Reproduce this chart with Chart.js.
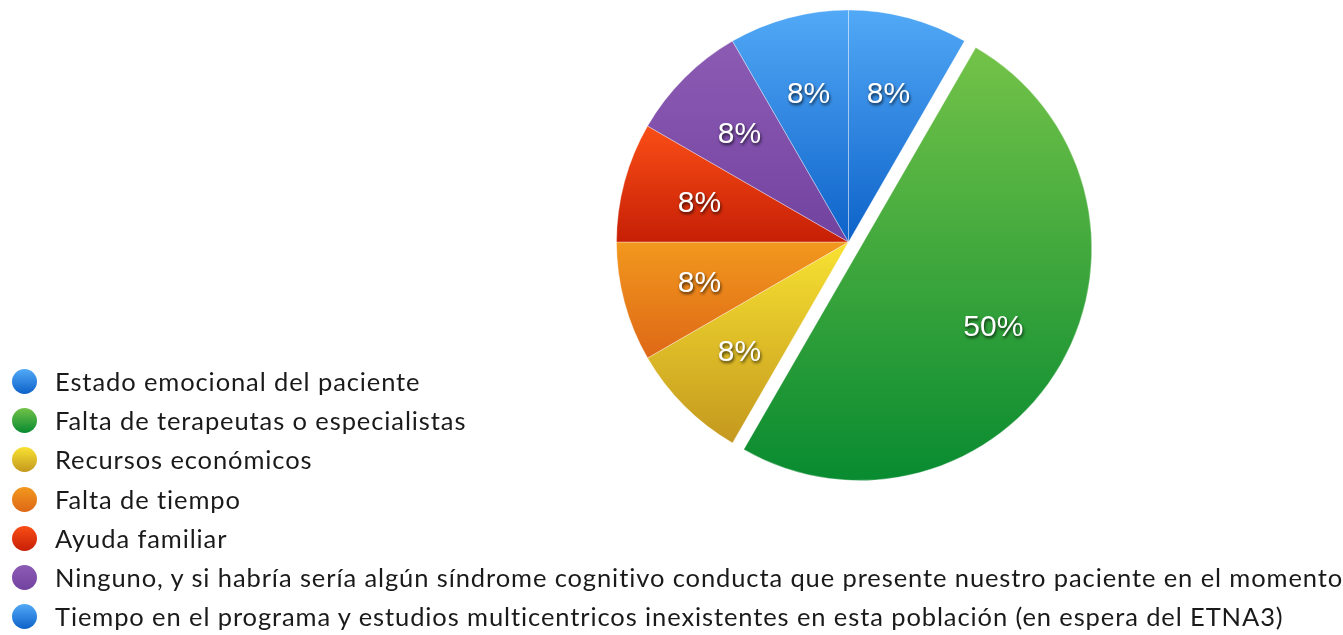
<!DOCTYPE html>
<html>
<head>
<meta charset="utf-8">
<script src="https://cdn.jsdelivr.net/npm/chart.js@4/dist/chart.umd.min.js"></script>
<style>
  body { margin: 0; background: #fff; }
  #wrap { position: relative; width: 1343px; height: 635px; }
  #legend { position: absolute; left: 0; top: 362px; margin: 0; padding: 0; list-style: none;
    font-family: Lato, "Open Sans", sans-serif; font-size: 25.5px; letter-spacing: 0.9px; color: #1a1a1a; }
  #legend li { height: 39.2px; line-height: 39.2px; white-space: nowrap; position: relative; padding-left: 55px; }
  #legend span { position: absolute; left: 12px; top: 7px; width: 25px; height: 25px; border-radius: 50%; }
</style>
</head>
<body>
<div id="wrap">
  <canvas id="pieChart"></canvas>
  <ul id="legend"></ul>
</div>
<script>
const categories = [
    'Estado emocional del paciente',
    'Falta de terapeutas o especialistas',
    'Recursos económicos',
    'Falta de tiempo',
    'Ayuda familiar',
    'Ninguno, y si habría sería algún síndrome cognitivo conducta que presente nuestro paciente en el momento',
    'Tiempo en el programa y estudios multicentricos inexistentes en esta población (en espera del ETNA3)'
]
const responses = [1, 6, 1, 1, 1, 1, 1]

const topColors = ['#52a9f6', '#72c248', '#f8e232', '#f2981e', '#fa4e16', '#8c5cb4', '#52a9f6']
const bottomColors = ['#0d62c9', '#078a30', '#c4981e', '#de6816', '#c61f06', '#7242a0', '#0d62c9']
// pixels each slice is pulled out from the centre
const sliceShift = [0, 13, 0, 0, 0, 0, 0]
const borderW = 1

const total = responses.reduce((a, b) => a + b, 0)

function sliceAngles(i) {
    let start = -Math.PI / 2
    for (let j = 0; j < i; j++) start += 2 * Math.PI * responses[j] / total
    return [start, start + 2 * Math.PI * responses[i] / total]
}

function sliceGradient(context) {
    const i = context.dataIndex
    const area = context.chart.chartArea
    if (!area) return topColors[i]
    const cy = (area.top + area.bottom) / 2
    const r = (Math.min(area.width, area.height) - borderW) / 2
    const [a0, a1] = sliceAngles(i)
    const dy = sliceShift[i] * Math.sin((a0 + a1) / 2)
    const ys = [cy, cy + r * Math.sin(a0), cy + r * Math.sin(a1)]
    if (a0 <= Math.PI / 2 && a1 >= Math.PI / 2) ys.push(cy + r)
    const g = context.chart.ctx.createLinearGradient(0, Math.min(...ys) + dy, 0, Math.max(...ys) + dy)
    g.addColorStop(0, topColors[i])
    g.addColorStop(1, bottomColors[i])
    return g
}

// chart.js grows an offset half-circle, so move the slice by hand
const explodeSlices = {
    id: 'explodeSlices',
    afterUpdate(chart) {
        chart.getDatasetMeta(0).data.forEach((arc, i) => {
            if (!sliceShift[i] || arc.shiftPatched) return
            const baseDraw = arc.draw
            arc.draw = function (ctx, area) {
                const mid = (this.startAngle + this.endAngle) / 2
                ctx.save()
                ctx.translate(Math.cos(mid) * sliceShift[i], Math.sin(mid) * sliceShift[i])
                baseDraw.call(this, ctx, area)
                ctx.restore()
            }
            arc.shiftPatched = true
        })
    }
}

const percentLabels = {
    id: 'percentLabels',
    afterDatasetsDraw(chart) {
        const ctx = chart.ctx
        const arcs = chart.getDatasetMeta(0).data
        ctx.save()
        ctx.font = '30px "Liberation Sans", Arial, sans-serif'
        ctx.textAlign = 'center'
        ctx.textBaseline = 'middle'
        ctx.fillStyle = '#ffffff'
        ctx.shadowColor = 'rgba(0,0,0,0.7)'
        ctx.shadowBlur = 3
        ctx.shadowOffsetX = 1
        ctx.shadowOffsetY = 2
        arcs.forEach((arc, i) => {
            const mid = (arc.startAngle + arc.endAngle) / 2
            const d = arc.outerRadius * 0.665 + sliceShift[i]
            const pct = Math.round(responses[i] / total * 100) + '%'
            ctx.fillText(pct, arc.x + Math.cos(mid) * d, arc.y + Math.sin(mid) * d + 2)
        })
        ctx.restore()
    }
}

const pieConfig = {
    type: 'pie',
    data: {
        labels: categories,
        datasets: [{
            data: responses,
            backgroundColor: sliceGradient,
            borderColor: 'rgba(255,255,255,0.35)',
            borderWidth: borderW
        }]
    },
    options: {
        responsive: true,
        maintainAspectRatio: false,
        animation: false,
        layout: {
            padding: { left: 616, right: 262, top: 9.5, bottom: 160.5 }
        },
        plugins: {
            legend: { display: false },
            tooltip: { enabled: false }
        }
    },
    plugins: [explodeSlices, percentLabels]
}

const chart = new Chart(document.getElementById('pieChart'), pieConfig)
chart.draw()

const legend = document.getElementById('legend')
categories.forEach((name, i) => {
    const li = document.createElement('li')
    const dot = document.createElement('span')
    dot.style.background = 'linear-gradient(' + topColors[i] + ', ' + bottomColors[i] + ')'
    li.appendChild(dot)
    li.appendChild(document.createTextNode(name))
    legend.appendChild(li)
})
</script>
</body>
</html>
